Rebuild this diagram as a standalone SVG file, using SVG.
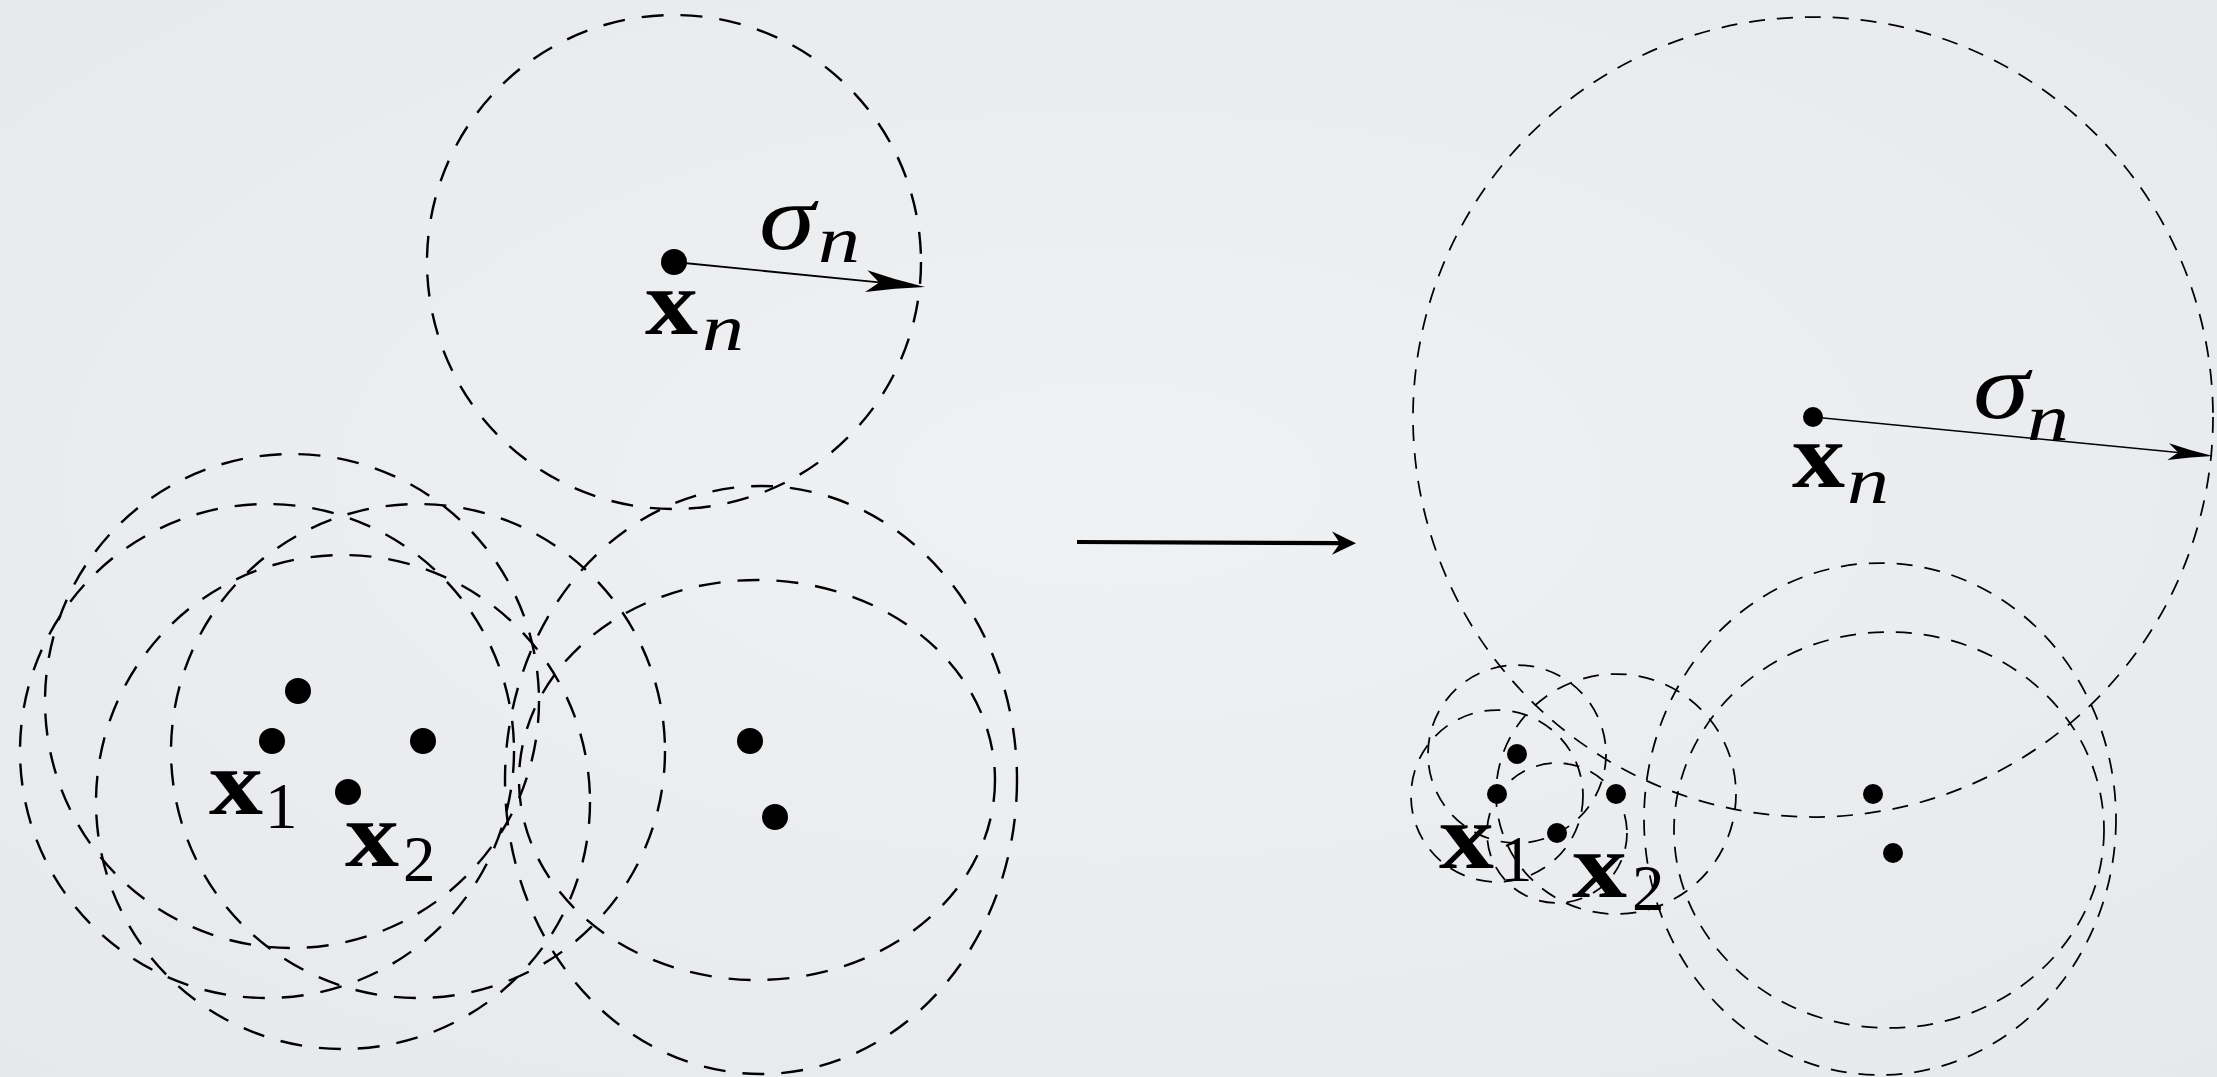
<svg xmlns="http://www.w3.org/2000/svg" width="2217" height="1077" viewBox="0 0 2217 1077">
  <defs>
    <radialGradient id="bg" cx="50%" cy="45%" r="75%">
      <stop offset="0" stop-color="#f0f1f3"/>
      <stop offset="1" stop-color="#e6e8eb"/>
    </radialGradient>
    <marker id="headL" markerUnits="userSpaceOnUse" viewBox="-60 -12 62 24" markerWidth="62" markerHeight="24" refX="-46" refY="0" orient="auto">
      <path d="M0,0 Q-30,-4 -59,-11 L-46,0 L-59,11 Q-30,4 0,0 Z" fill="#000"/>
    </marker>
    <marker id="headR" markerUnits="userSpaceOnUse" viewBox="-46 -10 48 20" markerWidth="48" markerHeight="20" refX="-35" refY="0" orient="auto">
      <path d="M0,0 Q-22,-3 -45,-8.5 L-35,0 L-45,8.5 Q-22,3 0,0 Z" fill="#000"/>
    </marker>
    <marker id="headM" markerUnits="userSpaceOnUse" viewBox="-26 -13 28 26" markerWidth="28" markerHeight="26" refX="-16" refY="0" orient="auto">
      <path d="M0,0 L-24,-11.7 L-16,0 L-24,11.7 Z" fill="#000"/>
    </marker>
  </defs>
  <style>
    .cl { fill: none; stroke: #000; stroke-width: 2.4; stroke-dasharray: 22 17; }
    .cr { fill: none; stroke: #000; stroke-width: 1.75; stroke-dasharray: 16 12; }
    .dl { fill: #000; }
    .main { font-family: "Liberation Serif", "DejaVu Serif", serif; font-size: 93px; fill: #000; }
    .bx { font-weight: bold; }
    .it { font-style: italic; }
    .sub { font-family: "Liberation Serif", "DejaVu Serif", serif; font-size: 65px; fill: #000; }
  </style>
  <rect x="0" y="0" width="2217" height="1077" fill="url(#bg)"/>

  <!-- Left panel -->
  <g id="left-circles">
    <circle class="cl" cx="674" cy="262" r="247"/>
    <circle class="cl" cx="292" cy="701" r="247"/>
    <circle class="cl" cx="267" cy="751" r="247"/>
    <circle class="cl" cx="418" cy="751" r="247"/>
    <circle class="cl" cx="343" cy="802" r="247"/>
    <ellipse class="cl" cx="761" cy="780" rx="256" ry="294"/>
    <ellipse class="cl" cx="757" cy="780" rx="238" ry="200"/>
  </g>

  <g id="connectors">
    <line x1="674" y1="262" x2="879.2" y2="282.4" stroke="#000" stroke-width="1.8" marker-end="url(#headL)"/>
    <line x1="1077" y1="542" x2="1340" y2="543.2" stroke="#000" stroke-width="4.2" marker-end="url(#headM)"/>
    <line x1="1813" y1="417" x2="2178.2" y2="452.6" stroke="#000" stroke-width="1.5" marker-end="url(#headR)"/>
  </g>

  <g id="left-xn">
    <circle class="dl" cx="674" cy="262" r="13"/>
    <text class="main bx" x="645" y="334" textLength="53" lengthAdjust="spacingAndGlyphs">x</text>
    <text class="sub it" x="702" y="350" textLength="42" lengthAdjust="spacingAndGlyphs">n</text>
    <text class="main it" x="759" y="249" textLength="56" lengthAdjust="spacingAndGlyphs">σ</text>
    <text class="sub it" x="818" y="262" textLength="42" lengthAdjust="spacingAndGlyphs">n</text>
  </g>
  <g id="left-x1">
    <circle class="dl" cx="272" cy="741" r="13"/>
    <text class="main bx" x="209" y="814" textLength="54" lengthAdjust="spacingAndGlyphs">x</text>
    <text class="sub" x="265" y="828">1</text>
  </g>
  <g id="left-x2">
    <circle class="dl" cx="348" cy="792" r="13"/>
    <text class="main bx" x="345" y="866" textLength="54" lengthAdjust="spacingAndGlyphs">x</text>
    <text class="sub" x="403" y="881">2</text>
  </g>
  <g id="left-p3"><circle class="dl" cx="298" cy="691" r="13"/></g>
  <g id="left-p4"><circle class="dl" cx="423" cy="741" r="13"/></g>
  <g id="left-p5"><circle class="dl" cx="750" cy="741" r="13"/></g>
  <g id="left-p6"><circle class="dl" cx="775" cy="817" r="13"/></g>

  <!-- Right panel -->
  <g id="right-circles">
    <circle class="cr" cx="1813" cy="417" r="400"/>
    <circle class="cr" cx="1517" cy="754" r="89"/>
    <circle class="cr" cx="1497" cy="796" r="86"/>
    <circle class="cr" cx="1616" cy="794" r="120"/>
    <circle class="cr" cx="1557" cy="833" r="70"/>
    <ellipse class="cr" cx="1880" cy="819" rx="236" ry="256"/>
    <ellipse class="cr" cx="1889" cy="830" rx="215" ry="198"/>
  </g>

  <g id="right-xn">
    <circle class="dl" cx="1813" cy="417" r="10"/>
    <text class="main bx" x="1792" y="487" textLength="53" lengthAdjust="spacingAndGlyphs">x</text>
    <text class="sub it" x="1847" y="503" textLength="42" lengthAdjust="spacingAndGlyphs">n</text>
    <text class="main it" x="1973" y="418" textLength="56" lengthAdjust="spacingAndGlyphs">σ</text>
    <text class="sub it" x="2027" y="440" textLength="42" lengthAdjust="spacingAndGlyphs">n</text>
  </g>
  <g id="right-x1">
    <circle class="dl" cx="1497" cy="794" r="10"/>
    <text class="main bx" x="1439" y="868" textLength="55" lengthAdjust="spacingAndGlyphs">x</text>
    <text class="sub" x="1500" y="881">1</text>
  </g>
  <g id="right-x2">
    <circle class="dl" cx="1557" cy="833" r="10"/>
    <text class="main bx" x="1572" y="897" textLength="55" lengthAdjust="spacingAndGlyphs">x</text>
    <text class="sub" x="1632" y="910">2</text>
  </g>
  <g id="right-p3"><circle class="dl" cx="1517" cy="754" r="10"/></g>
  <g id="right-p4"><circle class="dl" cx="1616" cy="794" r="10"/></g>
  <g id="right-p5"><circle class="dl" cx="1873" cy="794" r="10"/></g>
  <g id="right-p6"><circle class="dl" cx="1893" cy="853" r="10"/></g>
</svg>
